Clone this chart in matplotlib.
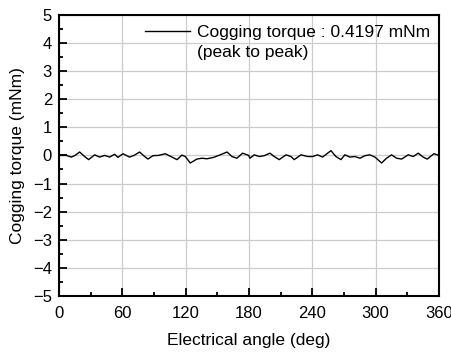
import matplotlib
matplotlib.use("Agg")
import matplotlib.pyplot as plt
from matplotlib.ticker import MultipleLocator

plt.rcParams['font.family'] = ['Liberation Sans', 'DejaVu Sans']

# angle (deg) and cogging torque (mNm)
angulo = [0, 2.2, 6.9, 11.7, 14.8, 19.6, 24.3, 28.1, 33.8, 38.5, 43.3, 48.0, 52.7,
          55.9, 60.6, 66.9, 71.1, 76.4, 81.2, 84.3, 89.0, 94.4, 100.7, 107.1,
          111.8, 116.5, 119.7, 124.4, 130.7, 135.5, 140.2, 146.5, 152.8, 159.2,
          163.9, 168.6, 174.0, 179.7, 181.0, 185.0, 189.8, 194.5, 199.9, 204.0,
          208.7, 215.1, 219.8, 222.9, 229.3, 235.6, 240.3, 245.1, 249.8, 257.7,
          262.4, 267.2, 270.9, 275.7, 280.4, 285.2, 289.9, 294.6, 299.4, 305.7,
          310.4, 315.2, 319.9, 324.7, 330.9, 335.7, 340.4, 345.1, 348.9, 355.3,
          359.3, 360]
torque = [0, 0, 0, -0.06, -0.01, 0.12, -0.04, -0.15, 0.02, -0.06, 0, -0.06, 0.04,
          -0.07, 0.06, -0.06, 0, 0.12, -0.04, -0.13, -0.01, 0, 0.06, -0.06,
          -0.15, 0.01, -0.04, -0.27, -0.13, -0.10, -0.12, -0.07, 0.02, 0.12,
          -0.04, -0.10, 0.08, 0, -0.10, 0.02, -0.04, -0.01, 0.08, -0.04,
          -0.15, 0.02, -0.04, -0.15, 0.02, -0.04, -0.04, 0.02, -0.06, 0.17,
          -0.04, -0.15, 0.02, -0.06, -0.04, -0.10, -0.01, 0.02, -0.06, -0.27,
          -0.10, 0.02, -0.10, -0.13, 0.02, -0.04, 0.08, -0.06, -0.13, 0.06,
          0.01, 0.02]

fig = plt.figure(figsize=(4.52, 3.54), dpi=100)
ax = fig.add_axes([0.1305, 0.164, 0.8405, 0.794])

ax.plot(angulo, torque, color="black", linewidth=1.0,
        label="Cogging torque : 0.4197 mNm")

ax.set_xlim(0, 360)
ax.set_ylim(-5, 5)
ax.xaxis.set_major_locator(MultipleLocator(60))
ax.xaxis.set_minor_locator(MultipleLocator(30))
ax.yaxis.set_major_locator(MultipleLocator(1))
ax.yaxis.set_minor_locator(MultipleLocator(0.5))
ax.tick_params(which="both", direction="in", labelsize=12, width=1.3)
ax.tick_params(which="major", length=6)
ax.tick_params(which="minor", length=3)
ax.tick_params(axis="x", pad=7)
ax.tick_params(axis="y", pad=5)
ax.grid(True, which="major", color="#cccccc", linewidth=0.9)
ax.set_axisbelow(True)
for s in ax.spines.values():
    s.set_linewidth(1.5)

ax.set_xlabel("Electrical angle (deg)", fontsize=12.5, labelpad=9)
ax.set_ylabel("Cogging torque (mNm)", fontsize=12.5, labelpad=6)

ley = ax.legend(loc="upper right", frameon=False, fontsize=12.5,
                handlelength=2.6, handletextpad=0.4,
                bbox_to_anchor=(1.0, 0.995), borderaxespad=0.1)
ax.text(0.363, 0.865, "(peak to peak)", transform=ax.transAxes,
        fontsize=12.5, va="center", ha="left")

fig.savefig("out.png", dpi=100)
